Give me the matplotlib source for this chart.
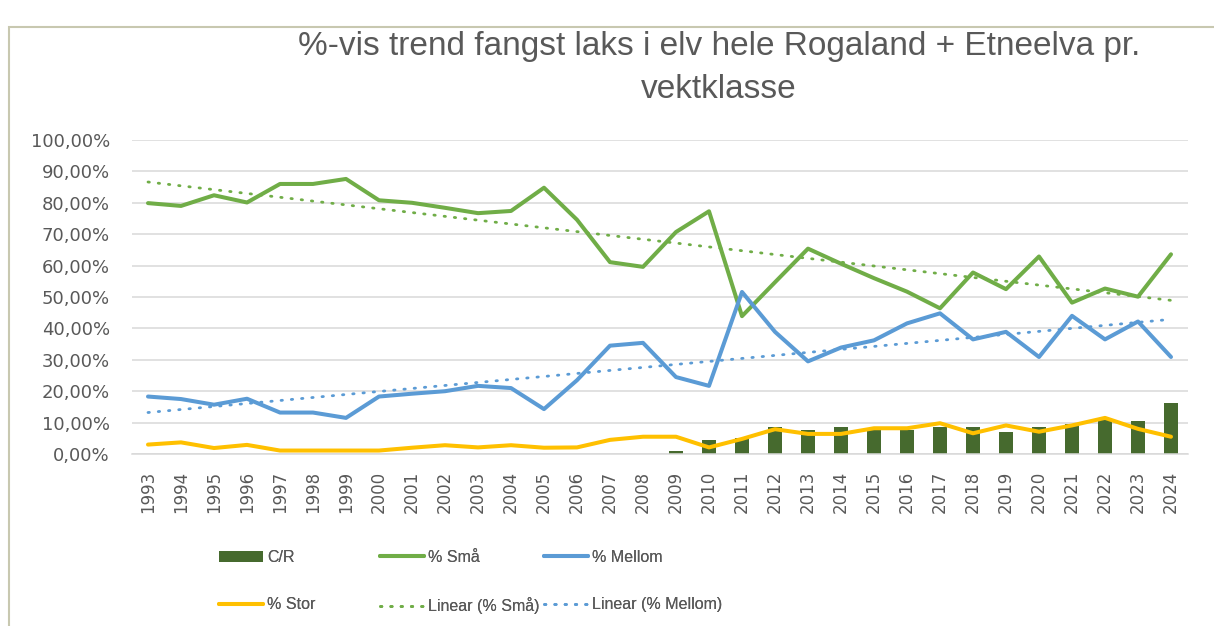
import matplotlib.pyplot as plt
import matplotlib.patches as mpatches
import numpy as np

years = list(range(1993, 2025))
sma = [79.9, 79.0, 82.4, 80.1, 86.0, 86.0, 87.6, 80.8, 80.0, 78.4, 76.7, 77.4, 84.8,
       74.6, 61.1, 59.6, 70.7, 77.3, 43.9, 54.7, 65.4, 60.6, 56.0, 51.7, 46.4, 57.8,
       52.5, 62.9, 48.2, 52.7, 50.1, 63.6]
mellom = [18.3, 17.5, 15.7, 17.6, 13.2, 13.2, 11.5, 18.3, 19.2, 20.0, 21.7, 21.0, 14.3,
          23.5, 34.5, 35.4, 24.5, 21.7, 51.6, 38.9, 29.5, 33.9, 36.2, 41.6, 44.8, 36.5,
          38.9, 30.9, 44.0, 36.5, 42.2, 30.9]
stor = [3.0, 3.7, 1.9, 2.9, 1.1, 1.1, 1.1, 1.1, 2.0, 2.8, 2.1, 2.8, 2.0,
        2.1, 4.5, 5.5, 5.5, 2.1, 4.8, 7.9, 6.4, 6.4, 8.2, 8.2, 9.8, 6.6,
        9.1, 7.1, 9.1, 11.5, 8.0, 5.5]
cr = [0, 0, 0, 0, 0, 0, 0, 0, 0, 0, 0, 0, 0,
      0, 0, 0, 0.85, 4.3, 5.1, 8.7, 7.8, 8.7, 7.5, 7.5, 8.7, 8.7,
      7.0, 8.7, 9.6, 10.7, 10.4, 16.4]
yticks = [0, 10, 20, 30, 40, 50, 60, 70, 80, 90, 100]
ytick_labels = ["%d,00%%" % v for v in yticks]

c_green = "#70AD47"
c_blue = "#5B9BD5"
c_yellow = "#FFC000"
c_bar = "#466A2E"
c_text = "#595959"
sans = ["Liberation Sans", "DejaVu Sans"]

fig = plt.figure(figsize=(12.14, 6.26), dpi=100)
ax = fig.add_axes([131.5 / 1214, 1 - 454 / 626, 1056 / 1214, 314 / 626])

x = np.arange(len(years))
bars = ax.bar(x, cr, width=0.4, color=c_bar, zorder=2, label="C/R")
l_sma, = ax.plot(x, sma, color=c_green, lw=2.9, solid_joinstyle="round",
                 solid_capstyle="round", zorder=4, label="% Små")
l_mel, = ax.plot(x, mellom, color=c_blue, lw=2.9, solid_joinstyle="round",
                 solid_capstyle="round", zorder=4, label="% Mellom")
l_sto, = ax.plot(x, stor, color=c_yellow, lw=2.9, solid_joinstyle="round",
                 solid_capstyle="round", zorder=4, label="% Stor")

# linear trend lines (least squares, like Excel)
p1 = np.polyfit(x, sma, 1)
p2 = np.polyfit(x, mellom, 1)
t_sma, = ax.plot(x, np.polyval(p1, x), color=c_green, lw=2.0,
                 linestyle=(0, (0.5, 3.2)), dash_capstyle="round", zorder=5,
                 label="Linear (% Små)")
t_mel, = ax.plot(x, np.polyval(p2, x), color=c_blue, lw=2.0,
                 linestyle=(0, (0.5, 3.2)), dash_capstyle="round", zorder=5,
                 label="Linear (% Mellom)")

ax.set_xlim(-0.5, len(years) - 0.5)
ax.set_ylim(0, 100)
ax.set_yticks(yticks)
ax.set_yticklabels(ytick_labels)
ax.set_xticks(x)
ax.set_xticklabels([str(y) for y in years], rotation=90)
ax.yaxis.grid(True, color="#D9D9D9", lw=1.1, zorder=0)
ax.set_axisbelow(True)
for s in ["top", "right", "left"]:
    ax.spines[s].set_visible(False)
ax.spines["bottom"].set_color("#D9D9D9")
ax.spines["bottom"].set_linewidth(1.1)
ax.tick_params(axis="both", length=0, colors=c_text)
ax.tick_params(axis="y", labelsize=13, pad=15.5)
ax.tick_params(axis="x", labelsize=12, pad=12)

fig.text(719 / 1214, 1 - 47 / 626, "%-vis trend fangst laks i elv hele Rogaland + Etneelva pr.",
         ha="center", va="center", fontsize=24, color=c_text, family=sans)
fig.text(719 / 1214, 1 - 89 / 626, "vektklasse",
         ha="center", va="center", fontsize=24, color=c_text, family=sans)

# legend, one block per column
cols = [([bars, l_sto], 211), ([l_sma, t_sma], 372), ([l_mel, t_mel], 536)]
for hs, xpos in cols:
    lg = fig.legend(handles=hs, labels=[h.get_label() for h in hs],
                    loc="upper left", bbox_to_anchor=(xpos / 1214, 1 - 542 / 626),
                    frameon=False, prop={"family": sans, "size": 11.5},
                    handlelength=2.75, handletextpad=0.25,
                    labelspacing=2.02, labelcolor=c_text, borderpad=0)
    fig.add_artist(lg)

fig.patches.append(mpatches.Rectangle((9 / 1214, -0.1), 2, 1.1 - 27 / 626,
                                      transform=fig.transFigure, fill=False,
                                      edgecolor="#C8C8B0", lw=1.5))

fig.savefig("out.png", dpi=100)
